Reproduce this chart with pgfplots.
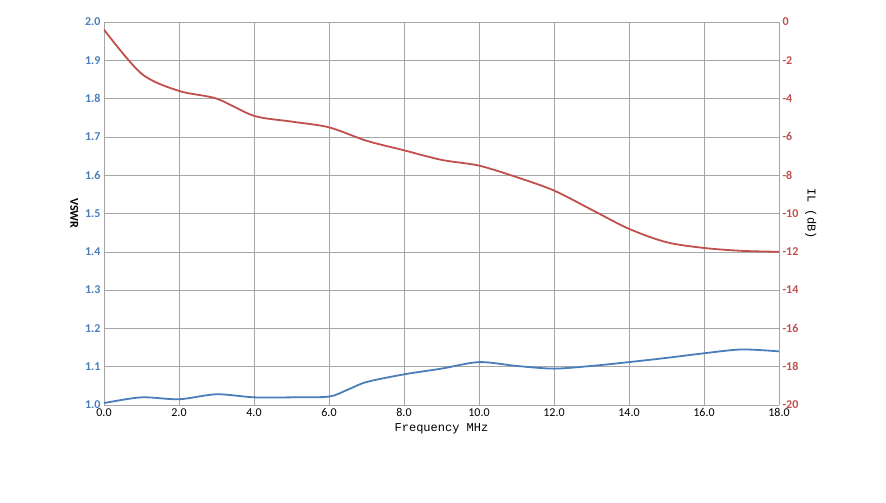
\documentclass[border=0pt]{standalone}
\usepackage{pgfplots}
\pgfplotsset{compat=1.18}
\usepackage{fontspec}
\setmainfont{Carlito}
\newfontfamily\monof{Liberation Mono}
\definecolor{bl}{RGB}{74,126,187}
\definecolor{rd}{RGB}{192,80,77}
\begin{document}
\begin{tikzpicture}
\path[use as bounding box] (-104pt,-98pt) rectangle (782pt,405pt);
\begin{axis}[scale only axis, width=675pt, height=383pt, at={(0,0)},
  xmin=0,xmax=18, ymin=1,ymax=2,
  xtick={0,2,...,18}, ytick={1,1.1,...,2.01},
  xticklabel style={font=\large},
  yticklabel style={text=bl,font=\large\bfseries},
  /pgf/number format/.cd,fixed,fixed zerofill,precision=1,assume math mode=true,/pgfplots/.cd,
  grid=major, grid style={gray!70}, axis line style={gray!70},
  tick style={draw=none},
  xlabel={\monof Frequency MHz}, xlabel style={font=\large},
  ylabel={\bfseries VSWR}, ylabel style={rotate=180,font=\large},
  axis y line*=left]
\addplot[bl, line width=1.8pt, smooth] coordinates {(0,1.005)(1,1.02)(2,1.015)(3,1.028)(4,1.02)(5,1.02)(6,1.022)(6.5,1.04)(7,1.06)(8,1.08)(9,1.095)(10,1.112)(11,1.102)(12,1.095)(13,1.102)(14,1.112)(15,1.123)(16,1.135)(17,1.145)(18,1.14)};
\end{axis}
\begin{axis}[scale only axis, width=675pt, height=383pt, at={(0,0)},
  xmin=0,xmax=18, ymin=-20,ymax=0, ytick={-20,-18,...,0},
  axis y line*=right, axis x line=none, tick style={draw=none},
  /pgf/number format/assume math mode=true,
  yticklabel style={text=rd,font=\large\bfseries},
  axis line style={gray!70},
  ylabel={\monof IL (dB)}, ylabel style={rotate=180,font=\large}]
\addplot[rd, line width=1.8pt, smooth] coordinates {(0,-0.4)(1,-2.7)(2,-3.6)(3,-4)(4,-4.9)(5,-5.2)(6,-5.5)(7,-6.2)(8,-6.7)(9,-7.2)(10,-7.5)(11,-8.1)(12,-8.8)(13,-9.8)(14,-10.8)(15,-11.5)(16,-11.8)(17,-11.95)(18,-12)};
\end{axis}
\end{tikzpicture}
\end{document}
